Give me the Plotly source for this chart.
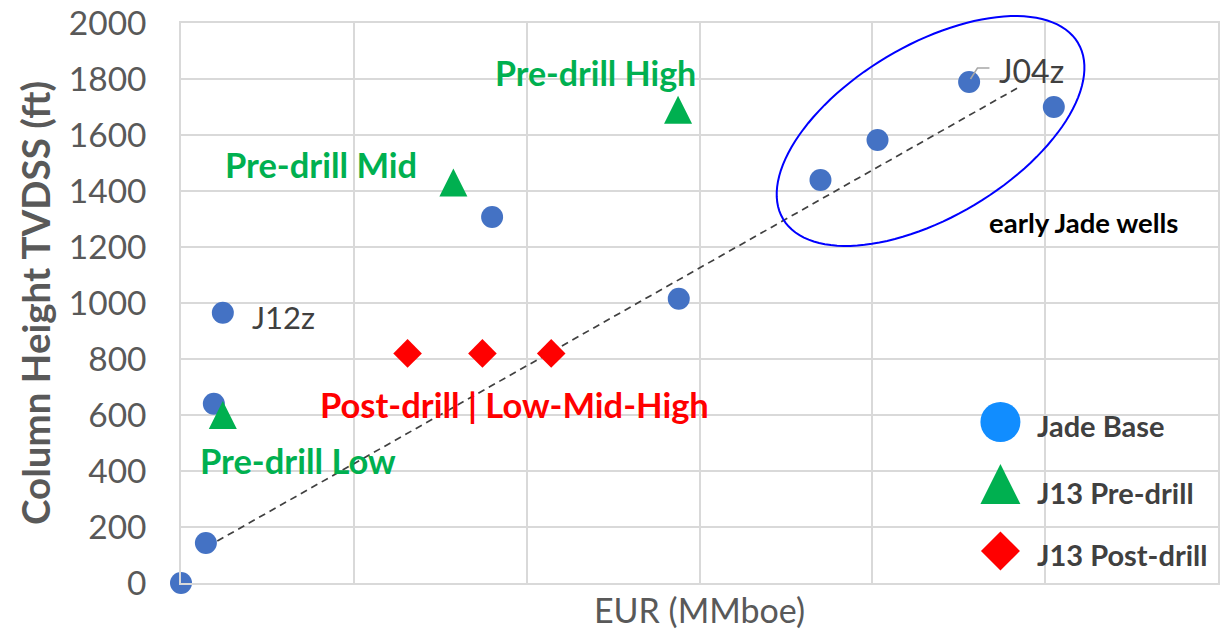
import numpy as np
import plotly.graph_objects as go

# ---------------- data ----------------
base_x = [0.0, 0.144, 0.19, 0.242, 1.80, 2.88, 3.70, 4.03, 4.56, 5.05]
base_y = [0, 143, 640, 965, 1307, 1015, 1439, 1582, 1789, 1700]

pre_x = [0.242, 1.576, 2.876]
pre_y = [600, 1430, 1690]

post_x = [1.311, 1.744, 2.142]
post_y = [820, 820, 820]

trend_x = [0.21, 4.84]
trend_y = [150, 1768]

y_ticks = [0, 200, 400, 600, 800, 1000, 1200, 1400, 1600, 1800, 2000]

# ---------------- layout constants ----------------
W, H = 1222, 630
ML, MR, MT, MB = 181, 2, 23, 47
PW, PH = W - ML - MR, H - MT - MB
GRID = "#d9d9d9"
FONT = "Lato"


def px2paper(px, py):
    return (px - ML) / PW, (H - MB - py) / PH


fig = go.Figure()

fig.add_trace(go.Scatter(
    x=trend_x, y=trend_y, mode="lines",
    line=dict(color="#404040", width=1.7, dash="7px,5px"),
    hoverinfo="skip", showlegend=False))

fig.add_trace(go.Scatter(
    x=base_x, y=base_y, mode="markers", name="Jade Base", cliponaxis=False,
    marker=dict(symbol="circle", size=22, color="#4472C4"), showlegend=False))

# upward triangle centred on the point (arrow-down rotated 180 deg, shifted by half its height)
fig.add_trace(go.Scatter(
    x=pre_x, y=pre_y, mode="markers", name="J13 Pre-drill", cliponaxis=False,
    marker=dict(symbol="arrow-down", angle=180, size=28, standoff=14, color="#00B050"),
    showlegend=False))

fig.add_trace(go.Scatter(
    x=post_x, y=post_y, mode="markers", name="J13 Post-drill", cliponaxis=False,
    marker=dict(symbol="diamond", size=22, color="#FF0000"), showlegend=False))

# ---------- custom legend keys on an overlay axis in paper units ----------
leg_px = [(1002, 422), (1002, 484), (1002, 551)]
leg_sym = ["circle", "arrow-down", "diamond"]
leg_ang = [0, 180, 0]
leg_col = ["#118DFF", "#00B050", "#FF0000"]
leg_size = [40, 40, 30]
leg_stand = [0, 20, 0]
leg_txt = ["Jade Base", "J13 Pre-drill", "J13 Post-drill"]
leg_txt_y = [425, 492, 554]
for (lx, ly), s, an, c, sz, so in zip(leg_px, leg_sym, leg_ang, leg_col, leg_size, leg_stand):
    px_, py_ = px2paper(lx, ly)
    fig.add_trace(go.Scatter(
        x=[px_], y=[py_], xaxis="x2", yaxis="y2", mode="markers", cliponaxis=False,
        marker=dict(symbol=s, angle=an, size=sz, color=c, standoff=so),
        hoverinfo="skip", showlegend=False))
for t, ty in zip(leg_txt, leg_txt_y):
    ax_, ay_ = px2paper(1037, ty)
    fig.add_annotation(x=ax_, y=ay_, xref="paper", yref="paper", text="<b>%s</b>" % t,
                       showarrow=False, xanchor="left", yanchor="middle",
                       font=dict(family=FONT, size=29, color="#404040"))

# ---------- ellipse ----------
cx, cy, a, b, th = 932, 131, 172, 86, np.deg2rad(30.8)
tt = np.linspace(0, 2 * np.pi, 121)
ex = cx + a * np.cos(tt) * np.cos(th) - b * np.sin(tt) * np.sin(th)
ey = cy - (a * np.cos(tt) * np.sin(th) + b * np.sin(tt) * np.cos(th))
pts = [px2paper(x_, y_) for x_, y_ in zip(ex, ey)]
path = "M " + " L ".join("%.5f,%.5f" % p for p in pts) + " Z"
fig.add_shape(type="path", path=path, xref="paper", yref="paper",
              line=dict(color="#0000FF", width=2))

# ---------- J04z leader ----------
p1 = px2paper(972, 79)
p2 = px2paper(979, 68)
p3 = px2paper(991, 68)
fig.add_shape(type="path", xref="paper", yref="paper",
              path="M %.5f,%.5f L %.5f,%.5f L %.5f,%.5f" % (p1 + p2 + p3),
              line=dict(color="#a6a6a6", width=1.5))

# ---------- text labels ----------
def label(x, y, text, color, size, bold=True, xanchor="center"):
    fig.add_annotation(x=x, y=y, text=("<b>%s</b>" % text) if bold else text,
                       showarrow=False, xanchor=xanchor, yanchor="middle",
                       font=dict(family=FONT, size=size, color=color))

label(2.40, 1825, "Pre-drill High", "#00B050", 34)
label(0.81, 1493, "Pre-drill Mid", "#00B050", 34.5)
label(0.676, 439, "Pre-drill Low", "#00B050", 34.5)
label(1.93, 636, "Post-drill | Low-Mid-High", "#FF0000", 34.5)
label(5.22, 1286, "early Jade wells", "#000000", 27.5)
label(0.40, 950, "J12z", "#404040", 31, bold=False, xanchor="left")
label(4.72, 1832, "J04z", "#404040", 32, bold=False, xanchor="left")

fig.update_layout(
    width=W, height=H,
    margin=dict(l=ML, r=MR, t=MT, b=MB),
    paper_bgcolor="white", plot_bgcolor="white",
    showlegend=False,
    font=dict(family=FONT, color="#595959"),
    xaxis=dict(range=[0, 6], dtick=1, tick0=0, showticklabels=False,
               showgrid=True, gridcolor=GRID, gridwidth=1.5, zeroline=False,
               showline=True, linecolor=GRID, linewidth=1.5, mirror=True,
               ticks="",
               title=dict(text="EUR (MMboe)", standoff=18,
                          font=dict(family=FONT, size=34, color="#595959"))),
    yaxis=dict(range=[0, 2000], tickvals=y_ticks, showgrid=True, gridcolor=GRID,
               gridwidth=1.5, zeroline=False, showline=True, linecolor=GRID,
               linewidth=1.5, mirror=True, ticks="", ticklabelstandoff=26,
               tickfont=dict(family=FONT, size=33.5, color="#595959"),
               title=dict(text="<b>Column Height TVDSS (ft)</b>", standoff=6,
                          font=dict(family=FONT, size=38.5, color="#595959"))),
    xaxis2=dict(range=[0, 1], overlaying="x", visible=False, fixedrange=True),
    yaxis2=dict(range=[0, 1], overlaying="y", visible=False, fixedrange=True),
)

fig.write_html("out.html")
